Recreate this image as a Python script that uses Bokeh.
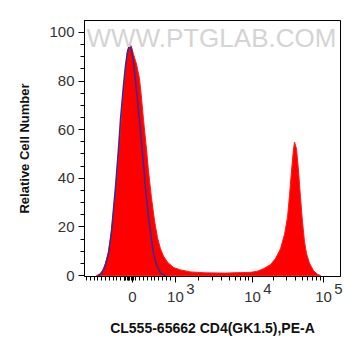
import math
from bokeh.plotting import figure
from bokeh.models import FixedTicker, Range1d, Label, LinearAxis
from bokeh.embed import file_html
from bokeh.resources import INLINE

# x in biexponential display units (10^4 -> 4, 10^5 -> 5)
sample_x = [1.803, 1.845, 1.887, 1.930, 1.972, 2.000, 2.028, 2.070, 2.113, 2.141,
            2.183, 2.211, 2.239, 2.272, 2.296, 2.324, 2.366, 2.408, 2.437, 2.465,
            2.507, 2.535, 2.577, 2.620, 2.662, 2.704, 2.746, 2.803, 2.887, 2.986,
            3.127, 3.338, 3.620, 3.831, 3.972, 4.070, 4.155, 4.254, 4.324, 4.394,
            4.451, 4.493, 4.521, 4.549, 4.577, 4.592, 4.620, 4.648, 4.676, 4.704,
            4.732, 4.761, 4.803, 4.859, 4.915, 4.958]
sample_y = [0.0, 0.5, 2.0, 5.0, 10.0, 15.0, 22.0, 35.0, 50.0, 60.0,
            76.0, 85.0, 92.0, 95.6, 94.0, 91.0, 87.0, 81.0, 73.0, 64.0,
            52.0, 43.0, 32.0, 22.6, 15.5, 11.0, 8.0, 5.5, 3.3, 2.3,
            1.5, 1.1, 1.0, 1.2, 1.3, 1.8, 2.8, 4.5, 7.0, 11.0,
            17.0, 24.0, 33.0, 43.0, 52.0, 54.9, 52.0, 43.0, 32.0, 22.0,
            14.0, 9.0, 5.0, 2.0, 0.5, 0.0]

control_x = [1.831, 1.873, 1.915, 1.972, 2.014, 2.070, 2.113, 2.141, 2.183, 2.211,
             2.239, 2.272, 2.296, 2.324, 2.338, 2.366, 2.408, 2.451, 2.493, 2.535,
             2.577, 2.606, 2.648, 2.704, 2.775]
control_y = [0.0, 0.8, 3.0, 9.0, 18.0, 36.0, 52.0, 64.0, 78.0, 86.0,
             92.0, 95.0, 93.0, 88.0, 84.0, 76.0, 64.0, 50.0, 36.0, 24.0,
             15.0, 9.0, 4.5, 1.0, 0.0]

x_tick_pos = [2.31, 2.915, 4.0, 5.0]
x_tick_base = ["0", "10", "10", "10"]
x_tick_exp = ["", "3", "4", "5"]
y_ticks = [0, 20, 40, 60, 80, 100]

EXP_SHIFT = 0.211  # 15 px to the right of the decade tick

p = figure(width=361, height=356, output_backend="svg", toolbar_location=None,
           x_range=Range1d(1.634, 5.239), y_range=Range1d(-0.4, 104.9),
           min_border_left=84, min_border_right=21, min_border_top=20,
           min_border_bottom=80, background_fill_color="white",
           border_fill_color="white")
p.grid.visible = False
p.outline_line_color = "black"
p.outline_line_width = 1

# watermark
p.add_layout(Label(x=1.662, y=104.0, text="WWW.PTGLAB.COM", text_font="Liberation Sans",
                   text_font_size="26px", text_color="#d4d4d4", text_baseline="top",
                   text_align="left"))

p.patch(sample_x, sample_y, fill_color="#ff0000", line_color="#ff1a1a", line_width=1)
p.line(control_x, control_y, line_color="#3b2a8f", line_width=1.6)

# minor ticks (biexponential style)
minor = []
k = 1.662
while k < 2.86:
    minor.append(round(k, 4))
    k += 0.0535
minor += [2.20 + 0.018 * i for i in range(8)]
for start, span in [(2.915, 1.085), (4.0, 1.0)]:
    for m in range(2, 10):
        minor.append(start + span * math.log10(m))

xa = p.xaxis[0]
xa.ticker = FixedTicker(ticks=x_tick_pos, minor_ticks=minor)
xa.major_label_overrides = {pos: "" for pos in x_tick_pos}
xa.major_label_text_font_size = "1px"
xa.major_label_standoff = 0

ya = p.yaxis[0]
ya.ticker = FixedTicker(ticks=y_ticks, minor_ticks=list(range(0, 105, 5)))

for ax in (xa, ya):
    ax.axis_line_color = "black"
    ax.major_tick_line_color = "black"
    ax.minor_tick_line_color = "black"
    ax.major_tick_in = 0
    ax.major_tick_out = 6
    ax.minor_tick_in = 0
    ax.minor_tick_out = 4

ya.major_label_text_font = "Liberation Sans"
ya.major_label_text_font_size = "15px"
ya.major_label_text_color = "#333333"
ya.major_label_standoff = 4
ya.axis_label = "Relative Cell Number"
ya.axis_label_standoff = 14
ya.axis_label_text_font = "Liberation Sans"
ya.axis_label_text_font_style = "bold"
ya.axis_label_text_font_size = "13px"
ya.axis_label_text_color = "#111111"

# exponent row
exp_pos = [pos + EXP_SHIFT for pos, e in zip(x_tick_pos, x_tick_exp) if e]
exp_axis = LinearAxis(ticker=FixedTicker(ticks=exp_pos, minor_ticks=[]),
                      major_label_overrides={pos + EXP_SHIFT: e for pos, e in zip(x_tick_pos, x_tick_exp) if e},
                      axis_line_color=None, major_tick_line_color=None,
                      minor_tick_line_color=None, major_tick_out=0, major_tick_in=0,
                      minor_tick_out=0, major_label_standoff=1,
                      major_label_text_font="Liberation Sans",
                      major_label_text_font_size="15px",
                      major_label_text_color="#333333")
p.add_layout(exp_axis, "below")

# base row
base_axis = LinearAxis(ticker=FixedTicker(ticks=x_tick_pos, minor_ticks=[]),
                       major_label_overrides={pos: lab for pos, lab in zip(x_tick_pos, x_tick_base)},
                       axis_line_color=None, major_tick_line_color=None,
                       minor_tick_line_color=None, major_tick_out=0, major_tick_in=0,
                       minor_tick_out=0, major_label_standoff=-5,
                       major_label_text_font="Liberation Sans",
                       major_label_text_font_size="15px",
                       major_label_text_color="#333333",
                       axis_label="CL555-65662 CD4(GK1.5),PE-A",
                       axis_label_standoff=15,
                       axis_label_text_font="Liberation Sans",
                       axis_label_text_font_style="bold",
                       axis_label_text_font_size="14px",
                       axis_label_text_color="#111111")
p.add_layout(base_axis, "below")

open("out.html", "w").write(file_html(p, INLINE))
